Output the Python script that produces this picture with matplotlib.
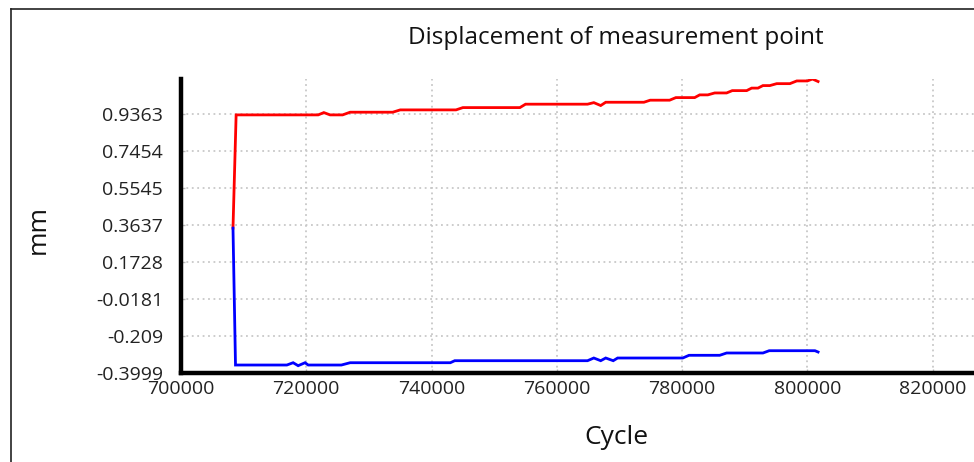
import matplotlib

matplotlib.use("Agg")
import matplotlib.pyplot as plt  # noqa: E402
from matplotlib.lines import Line2D  # noqa: E402

# upper trace (red)
red_cycle = [708300, 708800, 721900, 722800, 723800, 725800, 727000, 733800,
             735000, 743900, 745000, 754100, 755000, 764900, 765900, 767000,
             767800, 773900, 774900, 778000, 779000, 782000, 782800, 784100,
             785200, 787100, 788000, 790300, 791100, 792100, 792900, 794000,
             795100, 797200, 798300, 800000, 800800, 801700]
red_mm = [0.348, 0.9327, 0.9327, 0.9446, 0.9327, 0.9327, 0.9466, 0.9466,
          0.9585, 0.9585, 0.9704, 0.9704, 0.988, 0.988, 0.996, 0.981,
          0.998, 0.998, 1.0086, 1.0086, 1.022, 1.022, 1.036, 1.036,
          1.046, 1.046, 1.058, 1.058, 1.071, 1.071, 1.084, 1.084,
          1.094, 1.094, 1.108, 1.108, 1.118, 1.105]

# lower trace (blue)
blue_cycle = [708300, 708700, 716900, 717900, 718700, 719800, 720300, 725600,
              727000, 743000, 743700, 764900, 765900, 767000, 767800, 769000,
              769700, 780100, 781100, 786000, 787100, 792900, 793900, 801200,
              801700]
blue_mm = [0.348, -0.3587, -0.3587, -0.3468, -0.3622, -0.3468, -0.3587, -0.3587,
           -0.3468, -0.3468, -0.3364, -0.3364, -0.3225, -0.3364, -0.3225, -0.3364,
           -0.3225, -0.3225, -0.3085, -0.3085, -0.2966, -0.2966, -0.2848, -0.2848,
           -0.2915]

x_ticks = [700000, 720000, 740000, 760000, 780000, 800000, 820000]
y_ticks = [-0.3999, -0.209, -0.0181, 0.1728, 0.3637, 0.5545, 0.7454, 0.9363]
y_labels = ["-0.3999", "-0.209", "-0.0181", "0.1728", "0.3637", "0.5545",
            "0.7454", "0.9363"]

plt.rcParams["font.family"] = ["Open Sans", "DejaVu Sans"]

W, H = 974, 462
fig = plt.figure(figsize=(W / 100, H / 100), dpi=100)
ax = fig.add_axes([181 / W, 1 - 373 / H, 877 / W, 294 / H])

ax.plot(red_cycle, red_mm, color="#ff0000", linewidth=2.0, solid_joinstyle="miter")
ax.plot(blue_cycle, blue_mm, color="#0000ff", linewidth=2.0, solid_joinstyle="miter")

ax.set_xlim(700000, 840000)
ax.set_ylim(-0.3999, 1.118)
ax.set_xticks(x_ticks)
ax.set_xticklabels([str(v) for v in x_ticks])
ax.set_yticks(y_ticks)
ax.set_yticklabels(y_labels)

ax.grid(True, linestyle=(0, (1, 2)), color="#c8c8c8", linewidth=1.3)
ax.set_axisbelow(True)
for side in ("top", "right"):
    ax.spines[side].set_visible(False)
for side in ("left", "bottom"):
    ax.spines[side].set_linewidth(3.2)
    ax.spines[side].set_color("black")
ax.tick_params(direction="in", length=3, width=1, color="#bbbbbb",
               labelsize=14, labelcolor="#222222")
ax.tick_params(axis="y", pad=13)
ax.tick_params(axis="x", pad=5)

fig.text(616 / W, 1 - 38 / H, "Displacement of measurement point",
         ha="center", va="center", fontsize=17.5, color="#111111")
fig.text(616 / W, 1 - 438 / H, "Cycle", ha="center", va="center",
         fontsize=19, color="#111111")
fig.text(38 / W, 1 - 229 / H, "mm", ha="center", va="center", rotation=90,
         fontsize=19, color="#111111")

# frame lines of the window border
fig.add_artist(Line2D([11 / W, 11 / W], [0, 1 - 9 / H], color="#222222",
                      linewidth=1.2, transform=fig.transFigure))
fig.add_artist(Line2D([11 / W, 1], [1 - 9 / H, 1 - 9 / H], color="#222222",
                      linewidth=1.2, transform=fig.transFigure))

fig.savefig("out.png", dpi=100)
